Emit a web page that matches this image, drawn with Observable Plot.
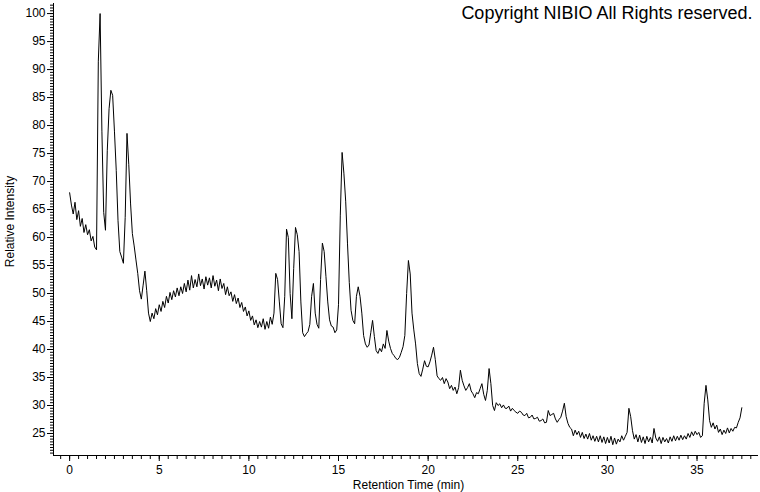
<!DOCTYPE html>
<html>
<head>
<meta charset="utf-8">
<script src="https://cdn.jsdelivr.net/npm/d3@7"></script>
<script src="https://cdn.jsdelivr.net/npm/@observablehq/plot@0.6"></script>
<style>
  html, body { margin: 0; padding: 0; background: #fff; }
  #chart { width: 760px; height: 492px; }
</style>
</head>
<body>
<div id="chart"></div>
<script>
// Sampling of the chromatogram (minutes)
const startTime = 0;
const timeStep = 0.1;

// Relative intensity, one value per 0.1 min, from 0.0 to 37.5 min
const intensity = [
  68.0, 65.8, 64.2, 66.3, 63.2, 64.8, 62.0, 63.4, 60.9, 62.3, // 0.0
  60.5, 61.4, 59.4, 60.2, 58.3, 57.8, 91.5, 100.0, 79.0, 64.5, // 1.0
  61.3, 75.5, 83.0, 86.3, 85.4, 79.0, 72.0, 63.0, 57.5, 56.5, // 2.0
  55.4, 63.6, 78.6, 73.0, 66.0, 60.7, 58.5, 56.0, 53.6, 50.5, // 3.0
  49.0, 51.5, 54.0, 50.5, 46.5, 45.0, 46.5, 45.5, 47.3, 46.2, // 4.0
  48.0, 46.8, 48.6, 47.5, 49.5, 48.3, 50.2, 48.9, 50.5, 49.4, // 5.0
  51.0, 49.6, 51.2, 50.0, 51.8, 50.3, 52.4, 50.6, 53.2, 51.0, // 6.0
  52.5, 51.2, 53.5, 51.4, 52.6, 50.8, 53.0, 51.5, 52.8, 51.0, // 7.0
  53.2, 51.3, 52.4, 50.5, 52.6, 50.9, 51.8, 49.8, 51.2, 49.6, // 8.0
  50.3, 48.6, 49.8, 48.2, 49.2, 47.5, 48.4, 46.8, 47.6, 46.0, // 9.0
  46.9, 45.2, 46.0, 44.4, 45.3, 43.9, 45.0, 44.0, 45.5, 43.6, // 10.0
  45.0, 43.8, 45.8, 44.5, 46.5, 53.6, 52.5, 48.5, 44.6, 43.9, // 11.0
  49.5, 61.5, 60.0, 50.0, 45.5, 54.5, 61.8, 60.5, 57.5, 48.5, // 12.0
  43.0, 42.3, 42.8, 43.2, 44.5, 49.5, 51.8, 46.5, 44.5, 43.8, // 13.0
  52.5, 59.0, 57.5, 53.0, 48.5, 45.3, 44.2, 44.0, 43.0, 43.5, // 14.0
  48.0, 64.0, 75.2, 71.5, 66.5, 59.0, 52.0, 47.0, 45.2, 44.6, // 15.0
  49.5, 51.2, 49.5, 46.5, 42.5, 41.0, 40.4, 40.8, 43.0, 45.2, // 16.0
  42.3, 39.8, 39.3, 40.2, 39.6, 41.0, 40.2, 43.4, 41.5, 40.2, // 17.0
  39.3, 38.9, 38.4, 38.2, 38.6, 39.5, 40.5, 42.5, 50.0, 55.9, // 18.0
  53.5, 46.5, 43.5, 41.0, 37.5, 35.7, 35.2, 36.5, 38.0, 37.0, // 19.0
  36.9, 37.8, 39.0, 40.4, 38.2, 35.3, 34.8, 34.5, 35.0, 33.9, // 20.0
  34.8, 34.2, 33.0, 33.6, 32.7, 33.3, 32.1, 33.2, 36.3, 34.5, // 21.0
  33.5, 32.7, 33.2, 33.9, 32.6, 32.1, 31.4, 32.3, 32.1, 33.0, // 22.0
  33.9, 32.0, 30.9, 32.7, 36.6, 33.9, 30.0, 29.1, 30.5, 30.0, // 23.0
  30.3, 29.6, 30.1, 29.5, 29.5, 29.9, 29.0, 29.5, 29.1, 28.8, // 24.0
  28.6, 29.0, 28.8, 28.3, 28.2, 28.6, 27.8, 27.9, 28.3, 27.6, // 25.0
  27.7, 27.9, 27.2, 27.3, 27.6, 26.9, 27.0, 29.1, 28.2, 28.4, // 26.0
  28.6, 27.6, 27.0, 27.5, 27.9, 29.0, 30.4, 28.0, 26.8, 26.1, // 27.0
  25.8, 24.6, 25.6, 24.8, 25.4, 24.3, 25.2, 24.1, 24.9, 24.0, // 28.0
  25.0, 23.8, 24.6, 23.6, 24.5, 23.5, 24.6, 23.4, 24.4, 23.2, // 29.0
  24.3, 23.3, 24.5, 23.0, 24.2, 23.1, 24.0, 23.5, 24.6, 23.8, // 30.0
  24.5, 25.2, 29.5, 28.0, 25.5, 24.0, 24.8, 23.5, 24.7, 23.4, // 31.0
  24.4, 23.2, 24.5, 23.5, 24.3, 23.3, 25.9, 24.2, 23.6, 24.4, // 32.0
  23.2, 24.3, 23.5, 24.1, 23.3, 24.4, 23.6, 24.6, 23.7, 24.5, // 33.0
  23.8, 24.7, 23.9, 24.6, 24.0, 25.0, 24.3, 25.3, 24.6, 25.4, // 34.0
  24.8, 25.2, 24.3, 24.6, 30.4, 33.6, 31.0, 27.3, 26.1, 26.9, // 35.0
  25.8, 26.5, 25.2, 25.8, 24.8, 25.6, 25.0, 26.0, 25.1, 25.9, // 36.0
  25.4, 26.1, 26.0, 27.0, 27.8, 29.6                          // 37.0
];

// Axis tick labels
const xTickLabels = [0, 5, 10, 15, 20, 25, 30, 35];
const yTickLabels = [25, 30, 35, 40, 45, 50, 55, 60, 65, 70, 75, 80, 85, 90, 95, 100];

const xTitle = "Retention Time (min)";
const yTitle = "Relative Intensity";
const copyright = "Copyright NIBIO All Rights reserved.";

const xDomain = [-0.9, 38.43];
const yDomain = [21.07, 101.8];

const trace = intensity.map((v, i) => ({t: +(startTime + i * timeStep).toFixed(2), v}));
const xMinor = d3.range(-0.5, 38.4, 0.5);
const yMinor = d3.range(21.5, 101.8, 0.5);

const font = "'Liberation Sans', Arial, Helvetica, sans-serif";

const chart = Plot.plot({
  width: 760,
  height: 492,
  marginLeft: 53,
  marginRight: 2,
  marginTop: 3,
  marginBottom: 37,
  style: {fontFamily: font, fontSize: "12px", color: "#000", background: "#fff"},
  x: {domain: xDomain},
  y: {domain: yDomain},
  marks: [
    Plot.axisX({ticks: xMinor, tickSize: 4, tickFormat: () => "", label: null, stroke: "#000"}),
    Plot.axisX({ticks: xTickLabels, tickSize: 6, tickPadding: 4, label: null, fontSize: 12, stroke: "#000", fill: "#000"}),
    Plot.axisY({ticks: yMinor, tickSize: 3, tickFormat: () => "", label: null, stroke: "#000"}),
    Plot.axisY({ticks: yTickLabels, tickSize: 6, tickPadding: 2, label: null, fontSize: 12, stroke: "#000", fill: "#000"}),
    Plot.ruleX([xDomain[0]], {stroke: "#000"}),
    Plot.ruleY([yDomain[0]], {stroke: "#000"}),
    Plot.line(trace, {x: "t", y: "v", stroke: "#000", strokeWidth: 1}),
    Plot.text([copyright], {frameAnchor: "top-right", dx: -6, dy: 10, lineAnchor: "middle", textAnchor: "end", fontSize: 18, fill: "#000"}),
    Plot.text([xTitle], {frameAnchor: "bottom", dx: 2.5, dy: 30, lineAnchor: "middle", fontSize: 12, fill: "#000"}),
    Plot.text([yTitle], {frameAnchor: "left", dx: -43, dy: -8, rotate: -90, lineAnchor: "middle", textAnchor: "middle", fontSize: 12, fill: "#000"})
  ]
});

document.getElementById("chart").appendChild(chart);
</script>
</body>
</html>
